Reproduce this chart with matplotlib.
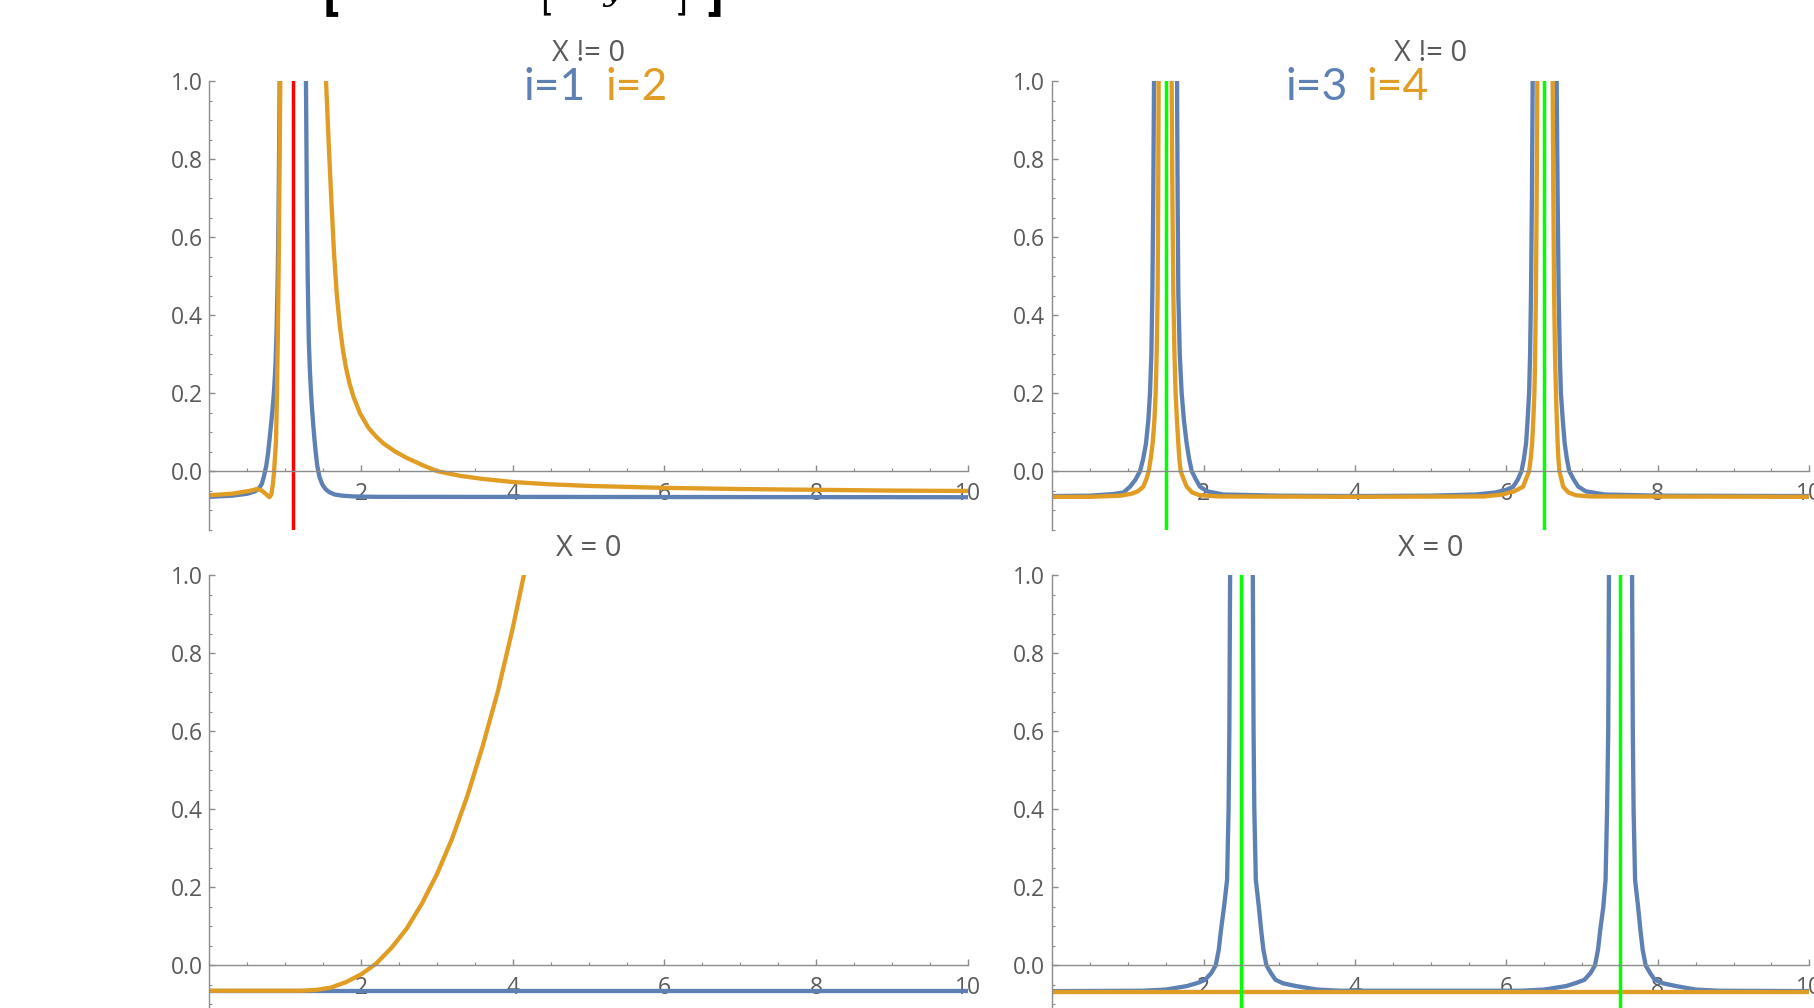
import matplotlib
matplotlib.use("Agg")
import matplotlib.pyplot as plt
from matplotlib.ticker import FixedLocator, MultipleLocator, FormatStrFormatter

plt.rcParams['font.family'] = ['Open Sans', 'DejaVu Sans']

BLUE = "#5E81B5"
ORANGE = "#E19C24"
AXIS_GRAY = "#8c8c8c"
LABEL_GRAY = "#5a5a5a"

# ---- data ----
# top left: X != 0, i=1 (blue) and i=2 (orange)
tl_i1_x = [0, 0.3, 0.5, 0.6, 0.65, 0.69, 0.72, 0.75, 0.775, 0.807, 0.83, 0.851, 0.87,
           0.885, 0.9, 0.91, 0.918, 0.925, 0.94, 1.1, 1.255, 1.268, 1.276, 1.284, 1.295,
           1.31, 1.325, 1.339, 1.355, 1.37, 1.385, 1.40, 1.42, 1.45, 1.49, 1.53, 1.58,
           1.65, 1.75, 1.9, 2.2, 10]
tl_i1_y = [-0.066, -0.063, -0.058, -0.052, -0.045, -0.033, -0.012, 0.015, 0.05, 0.11,
           0.155, 0.205, 0.27, 0.36, 0.5, 0.65, 0.82, 1.0, 1.4, 4.0, 1.4, 1.1, 0.9, 0.7,
           0.5, 0.33, 0.255, 0.2, 0.152, 0.114, 0.08, 0.05, 0.015, -0.015, -0.035, -0.046,
           -0.054, -0.060, -0.063, -0.065, -0.066, -0.067]
tl_i2_x = [0, 0.3, 0.55, 0.62, 0.68, 0.74, 0.79, 0.815, 0.835, 0.85, 0.865, 0.877, 0.89,
           0.903, 0.912, 0.921, 0.934, 0.95, 1.25, 1.52, 1.537, 1.57, 1.603, 1.642, 1.68,
           1.72, 1.76, 1.80, 1.85, 1.90, 1.985, 2.1, 2.2, 2.3, 2.45, 2.6, 2.8, 3.0, 3.3,
           3.6, 4.0, 4.5, 5.0, 6.0, 7.0, 8.0, 9.0, 10.0]
tl_i2_y = [-0.062, -0.058, -0.050, -0.046, -0.049, -0.058, -0.067, -0.060, -0.035, -0.005,
           0.04, 0.075, 0.2, 0.37, 0.52, 0.71, 1.0, 1.4, 4.0, 1.4, 1.0, 0.85, 0.71, 0.56,
           0.45, 0.37, 0.31, 0.265, 0.222, 0.19, 0.148, 0.11, 0.088, 0.07, 0.05, 0.034,
           0.016, 0.0, -0.012, -0.020, -0.028, -0.034, -0.038, -0.043, -0.046, -0.048,
           -0.050, -0.051]
tl_red = [1.105]

# top right: X != 0, i=3 (blue) and i=4 (orange)
tr_i3_x = [0, 0.5, 0.8, 0.94, 1.028, 1.1, 1.16, 1.2, 1.239, 1.27, 1.292, 1.31, 1.323,
           1.335, 1.345, 1.36, 1.5, 1.64, 1.649, 1.657, 1.666, 1.685, 1.71, 1.74, 1.776,
           1.81, 1.843, 1.9, 1.952, 2.05, 2.26, 3.0, 4.0, 5.0, 5.6, 5.85, 6.0, 6.09, 6.15,
           6.2, 6.23, 6.26, 6.28, 6.30, 6.313, 6.325, 6.337, 6.347, 6.36, 6.5, 6.65,
           6.664, 6.677, 6.69, 6.705, 6.72, 6.745, 6.77, 6.80, 6.83, 6.89, 6.95, 7.05,
           7.3, 8.0, 10.0]
tr_i3_y = [-0.064, -0.063, -0.059, -0.055, -0.040, -0.022, 0.0, 0.03, 0.071, 0.13, 0.2,
           0.3, 0.456, 0.7, 1.0, 1.5, 4.0, 1.5, 1.0, 0.7, 0.456, 0.3, 0.2, 0.13, 0.071,
           0.03, 0.0, -0.022, -0.040, -0.052, -0.060, -0.063, -0.064, -0.063, -0.060,
           -0.055, -0.048, -0.040, -0.022, 0.0, 0.03, 0.071, 0.13, 0.2, 0.3, 0.456, 0.7,
           1.0, 1.5, 4.0, 1.5, 1.0, 0.7, 0.456, 0.3, 0.2, 0.13, 0.071, 0.03, 0.0, -0.022,
           -0.040, -0.052, -0.060, -0.063, -0.064]
tr_i4_x = [0, 0.5, 0.9, 1.05, 1.13, 1.204, 1.245, 1.275, 1.30, 1.327, 1.35, 1.367, 1.38,
           1.393, 1.40, 1.406, 1.42, 1.49, 1.565, 1.578, 1.588, 1.60, 1.615, 1.63, 1.648,
           1.666, 1.68, 1.697, 1.735, 1.777, 1.85, 1.95, 2.2, 4.0, 5.7, 5.95, 6.1, 6.22,
           6.26, 6.30, 6.32, 6.34, 6.355, 6.37, 6.38, 6.39, 6.40, 6.408, 6.42, 6.51, 6.60,
           6.611, 6.62, 6.63, 6.642, 6.655, 6.666, 6.677, 6.688, 6.70, 6.725, 6.75, 6.82,
           6.92, 7.1, 10.0]
tr_i4_y = [-0.066, -0.066, -0.063, -0.058, -0.052, -0.040, -0.020, 0.0, 0.03, 0.071, 0.13,
           0.2, 0.3, 0.456, 0.7, 1.0, 1.5, 4.0, 1.5, 1.0, 0.7, 0.456, 0.3, 0.2, 0.13, 0.071,
           0.03, 0.0, -0.020, -0.040, -0.055, -0.062, -0.065, -0.066, -0.065, -0.060,
           -0.052, -0.040, -0.020, 0.0, 0.03, 0.071, 0.13, 0.2, 0.3, 0.456, 0.7, 1.0, 1.5,
           4.0, 1.5, 1.0, 0.7, 0.456, 0.3, 0.2, 0.13, 0.071, 0.03, 0.0, -0.020, -0.040,
           -0.055, -0.062, -0.065, -0.066]
tr_green = [1.5, 6.5]

# bottom left: X = 0
bl_i1_x = [0, 10]
bl_i1_y = [-0.066, -0.066]
bl_i2_x = [0, 1.0, 1.2, 1.4, 1.6, 1.8, 2.0, 2.2, 2.4, 2.6, 2.8, 3.0, 3.2, 3.4, 3.6, 3.8,
           4.0, 4.2]
bl_i2_y = [-0.065, -0.065, -0.065, -0.063, -0.057, -0.043, -0.023, 0.005, 0.045, 0.094,
           0.158, 0.234, 0.325, 0.434, 0.56, 0.70, 0.865, 1.05]

# bottom right: X = 0
br_i3_x = [0, 1.2, 1.5, 1.78, 1.92, 2.02, 2.1, 2.16, 2.2, 2.23, 2.27, 2.31, 2.33, 2.34,
           2.35, 2.37, 2.5, 2.63, 2.65, 2.66, 2.67, 2.69, 2.73, 2.76, 2.79, 2.83, 2.89,
           2.95, 3.05, 3.22, 3.5, 3.8, 6.2, 6.5, 6.79, 6.92, 7.03, 7.11, 7.17, 7.21, 7.24,
           7.28, 7.31, 7.33, 7.345, 7.355, 7.37, 7.5, 7.64, 7.66, 7.67, 7.68, 7.70, 7.74,
           7.77, 7.80, 7.84, 7.90, 7.96, 8.07, 8.24, 8.5, 8.8, 10.0]
br_i3_y = [-0.066, -0.065, -0.062, -0.053, -0.045, -0.037, -0.020, 0.0, 0.04, 0.091, 0.15,
           0.219, 0.4, 0.6, 1.0, 1.5, 4.0, 1.5, 1.0, 0.6, 0.4, 0.219, 0.15, 0.091, 0.04,
           0.0, -0.020, -0.037, -0.046, -0.053, -0.062, -0.065, -0.065, -0.062, -0.053,
           -0.045, -0.037, -0.020, 0.0, 0.04, 0.091, 0.15, 0.219, 0.4, 0.6, 1.0, 1.5, 4.0,
           1.5, 1.0, 0.6, 0.4, 0.219, 0.15, 0.091, 0.04, 0.0, -0.020, -0.037, -0.046,
           -0.053, -0.062, -0.065, -0.066]
br_i4_x = [0, 10]
br_i4_y = [-0.067, -0.067]
br_green = [2.5, 7.5]

x_ticks = [2, 4, 6, 8, 10]

# ---- layout (pixel boxes of the original screenshot) ----
W, H = 1815.0, 1008.0
fig = plt.figure(figsize=(W / 100, H / 100), dpi=100)


def px_rect(x0, x1, ytop, ybot):
    return [x0 / W, 1 - ybot / H, (x1 - x0) / W, (ybot - ytop) / H]


def style(ax):
    ax.set_xlim(0, 10)
    ax.set_ylim(-0.15, 1.0)
    ax.patch.set_visible(False)
    ax.spines['top'].set_visible(False)
    ax.spines['right'].set_visible(False)
    ax.spines['bottom'].set_position(('data', 0))
    for s in ['left', 'bottom']:
        ax.spines[s].set_color(AXIS_GRAY)
        ax.spines[s].set_linewidth(1.0)
    ax.xaxis.set_major_locator(FixedLocator(x_ticks))
    ax.xaxis.set_minor_locator(MultipleLocator(0.5))
    ax.yaxis.set_major_locator(MultipleLocator(0.2))
    ax.yaxis.set_minor_locator(MultipleLocator(0.05))
    ax.yaxis.set_major_formatter(FormatStrFormatter('%.1f'))
    ax.tick_params(which='both', direction='in', color=AXIS_GRAY,
                   labelcolor=LABEL_GRAY, labelsize=16.5)
    ax.tick_params(which='major', length=4, width=1)
    ax.tick_params(which='minor', length=2.5, width=0.8)
    ax.tick_params(axis='x', pad=8)
    ax.tick_params(axis='y', pad=5)


def curves(ax, series, vlines, vcolor):
    for xs, ys, c in series:
        ax.plot(xs, ys, color=c, lw=3.1, solid_joinstyle='round')
    for v in vlines:
        ax.axvline(v, color=vcolor, lw=2.5)


ax_tl = fig.add_axes(px_rect(209.5, 967.7, 81, 529.6))
ax_tr = fig.add_axes(px_rect(1052.2, 1809.2, 81, 529.6))
ax_bl = fig.add_axes(px_rect(209.5, 967.7, 575.3, 1023.9))
ax_br = fig.add_axes(px_rect(1052.2, 1809.2, 575.3, 1023.9))

for ax in [ax_tl, ax_tr, ax_bl, ax_br]:
    style(ax)

curves(ax_tl, [(tl_i1_x, tl_i1_y, BLUE), (tl_i2_x, tl_i2_y, ORANGE)], tl_red, "#FF0000")
curves(ax_tr, [(tr_i3_x, tr_i3_y, BLUE), (tr_i4_x, tr_i4_y, ORANGE)], tr_green, "#00FF00")
curves(ax_bl, [(bl_i1_x, bl_i1_y, BLUE), (bl_i2_x, bl_i2_y, ORANGE)], [], None)
curves(ax_br, [(br_i3_x, br_i3_y, BLUE), (br_i4_x, br_i4_y, ORANGE)], br_green, "#00FF00")

# panel titles
for cx, cy, t in [(588.6, 53.5, "X != 0"), (1430.7, 53.5, "X != 0"),
                  (588.6, 548, "X = 0"), (1430.7, 548, "X = 0")]:
    fig.text(cx / W, 1 - cy / H, t, ha='center', va='center',
             fontsize=21, color=LABEL_GRAY)

# series labels
for lx, t, c in [(524, "i=1", BLUE), (606, "i=2", ORANGE),
                 (1286, "i=3", BLUE), (1367, "i=4", ORANGE)]:
    fig.text(lx / W, 1 - 100 / H, t, ha='left', va='baseline',
             fontsize=32, color=c, family=['Lato', 'DejaVu Sans'])

# bottom of the cut-off expression above the plots
for bx, ch, fs, fw in [(332, "[", 28, 'bold'), (547, "[", 24, 'normal'),
                       (681, "]", 24, 'normal'), (714, "]", 28, 'bold')]:
    fig.text(bx / W, 1 - 10 / H, ch, ha='center', va='baseline',
             fontsize=fs, fontweight=fw, color='black', family='DejaVu Sans')
fig.text(613 / W, 1.0, "y", ha='center', va='baseline', fontsize=24,
         style='italic', color='black', family='DejaVu Serif')

fig.savefig("out.png", dpi=100)
